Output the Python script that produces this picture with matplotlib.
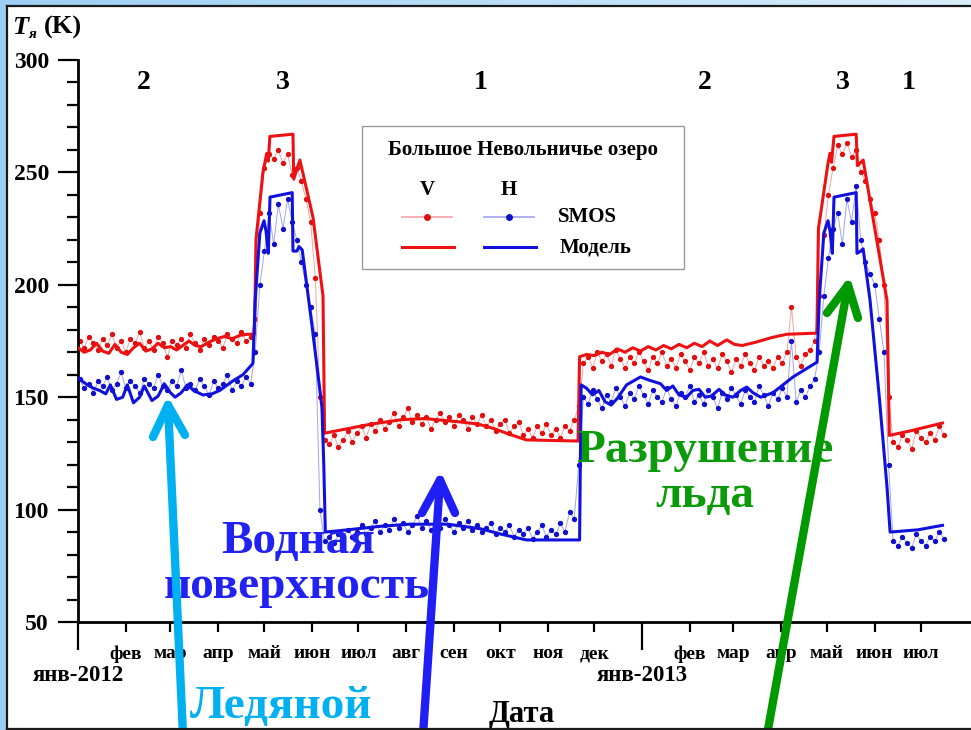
import numpy as np
import pandas as pd
import matplotlib
matplotlib.use("Agg")
import matplotlib.pyplot as plt
from matplotlib.lines import Line2D
from matplotlib.patches import Rectangle
from matplotlib.colors import LinearSegmentedColormap

plt.rcParams['font.family'] = ['Liberation Serif', 'DejaVu Serif']
plt.rcParams['font.weight'] = 'bold'

W, H = 971, 730
start = pd.Timestamp('2012-01-01')

# model curves: day offset from 2012-01-01, brightness temperature (K)
modelV_days = [0, 4, 8, 12, 16, 20, 24, 28, 32, 36, 40, 44, 48, 52, 56, 60, 64, 68, 72, 76,
               80, 85, 90, 95, 100, 105, 110, 114.5,
               115.5, 120, 122.5, 123.5, 124.5, 139.5, 140, 144, 152.5, 159, 160,
               175, 190, 210, 225, 248, 260, 270, 280, 291, 324.5,
               325.5, 330, 335, 340, 345, 350, 355, 360, 365, 370, 375, 380, 385, 390, 395,
               400, 405, 410, 415, 421, 426, 431, 440, 450, 460, 479.5,
               480.5, 486.7, 488, 489, 490.6, 505, 505.8, 509.5, 525, 526.5,
               540, 561]
modelV_vals = [172, 170, 171, 174, 170.5, 169.5, 173.5, 170, 169, 172, 174, 170.5, 171.5, 174,
               172, 172.5, 171, 173, 175, 173, 172.5, 174.5, 176, 177, 176, 177.5, 178, 178,
               220, 250, 258.5, 255, 266, 267, 247, 255.5, 230, 195, 134,
               136, 138, 140, 140.5, 139, 138, 136, 133.5, 131, 130.5,
               168, 169, 168.5, 170, 169, 171.5, 170, 172, 170.5, 172.5, 171, 173, 171.5, 173.5,
               172, 174, 172.5, 175, 173, 175.5, 173.5, 173, 174.5, 176.5, 178, 178.5,
               225, 254, 258.5, 254.5, 266, 267, 253, 255.5, 193, 133,
               135, 138.5]

modelH_days = [0, 3, 6, 10, 14, 18, 21, 25, 29, 32, 36, 40, 43, 48, 52, 56, 60, 63, 67, 71,
               75, 81, 87, 92, 100, 107, 113.5,
               115, 118, 120.7, 122, 123.5, 124.6, 139, 139.5, 142, 143.5, 145.5, 152, 158.3,
               159.5, 160.5,
               175, 195, 215, 240, 261, 275, 291, 325.5,
               326.5, 330, 334, 338, 342, 346, 350, 356, 365, 371, 378, 382, 386, 390, 395,
               399, 403, 407, 411, 416, 420, 425, 430, 434, 438, 443, 451, 464, 479.6,
               481, 484, 486.7, 488, 489.5, 490.6, 505, 505.5, 508, 509.5, 514, 520, 525, 527,
               545, 561]
modelH_vals = [158.5, 157, 155.5, 154, 153, 151.5, 155.5, 149, 150, 155.5, 147.5, 150, 155,
               148.5, 150.5, 156, 152, 150, 152, 155.5, 153, 151, 151.5, 153, 157, 160, 165,
               193, 223, 228.5, 224, 214, 239, 241, 215, 215, 217, 215.5, 181, 145.6, 120, 90,
               91, 92.5, 93.5, 93.5, 91.5, 89, 86.5, 86.5,
               155.5, 154, 151, 153, 148, 146.5, 149.5, 155.5, 159, 157.5, 156, 153, 155, 151,
               150, 153, 153.5, 150, 150.5, 153.5, 151, 150, 153, 154.5, 152, 150, 152, 159,
               165.6,
               193, 223, 228.5, 224, 214, 239, 241, 214, 215, 216, 193, 150, 110, 90,
               91, 93]

# SMOS observations, 3-day sampling inside each segment
smos_starts = ['2012-01-02', '2012-04-25', '2012-06-09', '2012-11-21', '2013-04-26', '2013-06-13']
smosV = [
    [175, 172, 177, 174, 171, 176, 173, 178, 172, 175, 170, 176, 174, 179, 172, 175, 171, 177, 174,
     168, 175, 173, 176, 172, 178, 174, 171, 176, 173, 177, 175, 172, 178, 176, 174, 179, 175, 177],
    [185, 232, 252, 258, 256, 260, 254, 258, 249, 252, 246, 238, 228, 203, 150],
    [131, 129, 133, 128, 131, 135, 130, 134, 137, 132, 138, 135, 140, 136, 139, 143, 137, 141, 145,
     139, 142, 138, 141, 136, 140, 143, 139, 141, 137, 142, 140, 136, 141, 138, 142, 137, 140, 135,
     138, 140, 134, 137, 139, 133, 136, 132, 137, 134, 138, 133, 136, 132, 137, 135, 140],
    [146, 165, 168, 163, 170, 166, 169, 164, 171, 167, 163, 168, 165, 170, 166, 162, 168, 165, 170,
     164, 167, 163, 169, 166, 162, 168, 165, 170, 164, 167, 163, 169, 166, 161, 167, 164, 169, 165,
     162, 168, 164, 166, 163, 168, 165, 170, 190, 168, 164, 169, 171, 175],
    [195, 222, 240, 252, 262, 258, 263, 257, 260, 250, 246, 238, 232, 220, 200, 150],
    [130, 128, 133, 131, 127, 135, 132, 130, 134, 131, 137, 133],
]
smosH = [
    [158, 154, 156, 152, 157, 155, 159, 153, 156, 161, 154, 157, 155, 152, 158, 156, 154, 160, 155,
     153, 157, 155, 162, 154, 156, 153, 158, 155, 151, 157, 154, 156, 160, 153, 157, 155, 159, 156],
    [170, 200, 215, 232, 218, 236, 225, 238, 228, 220, 210, 200, 190, 178, 100],
    [86, 88, 85, 89, 87, 91, 88, 90, 93, 89, 92, 95, 90, 93, 91, 96, 92, 94, 90, 93, 97, 92, 95,
     91, 94, 92, 96, 93, 90, 94, 92, 95, 91, 93, 90, 92, 94, 89, 92, 90, 93, 88, 91, 89, 92, 87,
     90, 93, 88, 91, 89, 94, 90, 99, 96],
    [120, 150, 147, 153, 149, 145, 151, 148, 154, 150, 146, 152, 149, 155, 151, 147, 153, 150, 148,
     154, 149, 146, 152, 150, 155, 148, 151, 147, 153, 150, 145, 152, 149, 154, 151, 147, 153, 150,
     148, 155, 151, 146, 152, 149, 154, 150, 175, 148, 153, 150, 155, 158],
    [170, 195, 212, 225, 232, 218, 238, 228, 244, 220, 210, 205, 200, 185, 170, 120],
    [86, 84, 88, 85, 83, 89, 86, 84, 88, 86, 90, 87],
]

month_ticks = ['2012-02-01', '2012-03-01', '2012-04-01', '2012-05-01', '2012-06-01', '2012-07-01',
               '2012-08-01', '2012-09-01', '2012-10-01', '2012-11-01', '2012-12-01',
               '2013-02-01', '2013-03-01', '2013-04-01', '2013-05-01', '2013-06-01', '2013-07-01']
month_labels = ['фев', 'мар', 'апр', 'май', 'июн', 'июл', 'авг', 'сен', 'окт', 'ноя', 'дек',
                'фев', 'мар', 'апр', 'май', 'июн', 'июл']
year_ticks = ['2012-01-01', '2013-01-01']
year_labels = ['янв-2012', 'янв-2013']

period_dates = ['2012-02-13', '2012-05-13', '2012-09-18', '2013-02-11', '2013-05-11', '2013-06-23']
period_labels = ['2', '3', '1', '2', '3', '1']


def days_to_dates(days):
    return start + pd.to_timedelta(np.array(days, dtype=float), unit='D')


def smos_series(starts, segs):
    d, v = [], []
    for s, vals in zip(starts, segs):
        d.extend(pd.date_range(s, periods=len(vals), freq='3D'))
        v.extend(vals)
    return d, v


def fx(x):
    return x / W


def fy(y):
    return 1 - y / H


fig = plt.figure(figsize=(W / 100, H / 100), dpi=100)

# slide background
bg = fig.add_axes([0, 0, 1, 1], zorder=-5)
grad = np.linspace(0, 1, 256)[None, :]
cm = LinearSegmentedColormap.from_list('bg', ['#9ccff3', '#d9edfb'])
bg.imshow(grad, aspect='auto', cmap=cm, extent=[0, 1, 0, 1])
bg.axis('off')
fig.add_artist(Rectangle((fx(7), fy(728)), 1, (728 - 6) / H, transform=fig.transFigure,
                         fc='white', ec='none', zorder=-4))

ax = fig.add_axes([fx(78), fy(622), (W - 78) / W, (622 - 60) / H])
ax.set_facecolor('none')

dV, vV = smos_series(smos_starts, smosV)
dH, vH = smos_series(smos_starts, smosH)
ax.plot(dV, vV, color='#f3a3a3', lw=0.7, marker='o', ms=2.8, mfc='#e01010', mec='#e01010', zorder=2)
ax.plot(dH, vH, color='#a3a3f0', lw=0.7, marker='o', ms=2.8, mfc='#1010cc', mec='#1010cc', zorder=2)
ax.plot(days_to_dates(modelV_days), modelV_vals, color='#ee1111', lw=2.2, zorder=3)
ax.plot(days_to_dates(modelH_days), modelH_vals, color='#1111dd', lw=2.2, zorder=3)

ax.set_xlim(start, start + pd.Timedelta(days=579.5))
ax.set_ylim(50, 300)
for sp in ['top', 'right']:
    ax.spines[sp].set_visible(False)
for sp in ['left', 'bottom']:
    ax.spines[sp].set_linewidth(2)

ax.set_yticks(np.arange(50, 301, 50))
ax.set_yticks(np.arange(50, 301, 10), minor=True)
ax.tick_params(axis='y', which='major', length=14.4, width=1.6, pad=6.5, labelsize=17)
ax.tick_params(axis='y', which='minor', length=8, width=1.6)

ax.set_xticks(pd.to_datetime(year_ticks), labels=year_labels)
ax.set_xticks(pd.to_datetime(month_ticks), labels=month_labels, minor=True)
ax.tick_params(axis='x', which='major', length=20, width=1.6, pad=11, labelsize=16.5)
ax.tick_params(axis='x', which='minor', length=7.2, width=1.6, pad=9.5, labelsize=14)

for dt, lab in zip(period_dates, period_labels):
    ax.text(pd.Timestamp(dt), 289.8, lab, fontsize=20, ha='center', va='center')

# axis titles
fig.text(fx(12), fy(34), 'T', fontsize=19, style='italic', va='baseline')
fig.text(fx(28), fy(38), 'я', fontsize=11, style='italic', va='baseline')
fig.text(fx(44), fy(34), '(K)', fontsize=19, va='baseline')
fig.text(fx(522), fy(722), 'Дата', fontsize=22, ha='center', va='baseline')

# legend block
fig.add_artist(Rectangle((fx(362), fy(269)), (684 - 362) / W, (269 - 126) / H,
                         transform=fig.transFigure, fc='white', ec='#9a9a9a', lw=1, zorder=4))
fig.text(fx(523), fy(150), 'Большое Невольничье озеро', fontsize=15, ha='center', va='center', zorder=5)
fig.text(fx(427), fy(190), 'V', fontsize=15, ha='center', va='center', zorder=5)
fig.text(fx(509), fy(190), 'H', fontsize=15, ha='center', va='center', zorder=5)
fig.text(fx(558), fy(217), 'SMOS', fontsize=15, ha='left', va='center', zorder=5)
fig.text(fx(560), fy(247), 'Модель', fontsize=15, ha='left', va='center', zorder=5)
for x0, x1, lc, mc in [(402, 452, '#f3a3a3', '#e01010'), (484, 534, '#a3a3f0', '#1010cc')]:
    fig.add_artist(Line2D([fx(x0), fx(x1)], [fy(217), fy(217)], color=lc, lw=1.2,
                          transform=fig.transFigure, zorder=5))
    fig.add_artist(Line2D([fx((x0 + x1) / 2)], [fy(217)], marker='o', ms=4, color=mc,
                          transform=fig.transFigure, zorder=6))
for x0, x1, c in [(402, 454, '#ee1111'), (484, 536, '#1111dd')]:
    fig.add_artist(Line2D([fx(x0), fx(x1)], [fy(247), fy(247)], color=c, lw=2.2,
                          transform=fig.transFigure, zorder=5))

# slide annotations
fig.text(fx(298), fy(553), 'Водная', fontsize=34, color='#2121f2', ha='center', va='baseline', zorder=6)
fig.text(fx(297), fy(598), 'поверхность', fontsize=34, color='#2121f2', ha='center', va='baseline', zorder=6)
fig.text(fx(705), fy(462), 'Разрушение', fontsize=34, color='#0a9a0a', ha='center', va='baseline', zorder=6)
fig.text(fx(705), fy(507), 'льда', fontsize=34, color='#0a9a0a', ha='center', va='baseline', zorder=6)
fig.text(fx(281), fy(718), 'Ледяной', fontsize=34, color='#00b0f0', ha='center', va='baseline', zorder=6)

arrows = [((183, 735), (168, 405), (153, 437), (185, 435), '#00b0f0'),
          ((423, 735), (440, 480), (422, 513), (455, 513), '#1f1ff5'),
          ((767, 735), (848, 285), (827, 313), (858, 318), '#009a00')]
for tail, tip, a1, a2, c in arrows:
    for p in (tail, a1, a2):
        fig.add_artist(Line2D([fx(p[0]), fx(tip[0])], [fy(p[1]), fy(tip[1])], color=c, lw=6,
                              solid_capstyle='round', transform=fig.transFigure, zorder=7))

# slide frame
for xs, ys in [((7, 975), (6, 6)), ((7, 7), (6, 735)), ((7, 975), (728.5, 728.5))]:
    fig.add_artist(Line2D([fx(x) for x in xs], [fy(y) for y in ys], color='#1a1a1a', lw=1.6,
                          transform=fig.transFigure, zorder=8))

fig.savefig('out.png', dpi=100)
